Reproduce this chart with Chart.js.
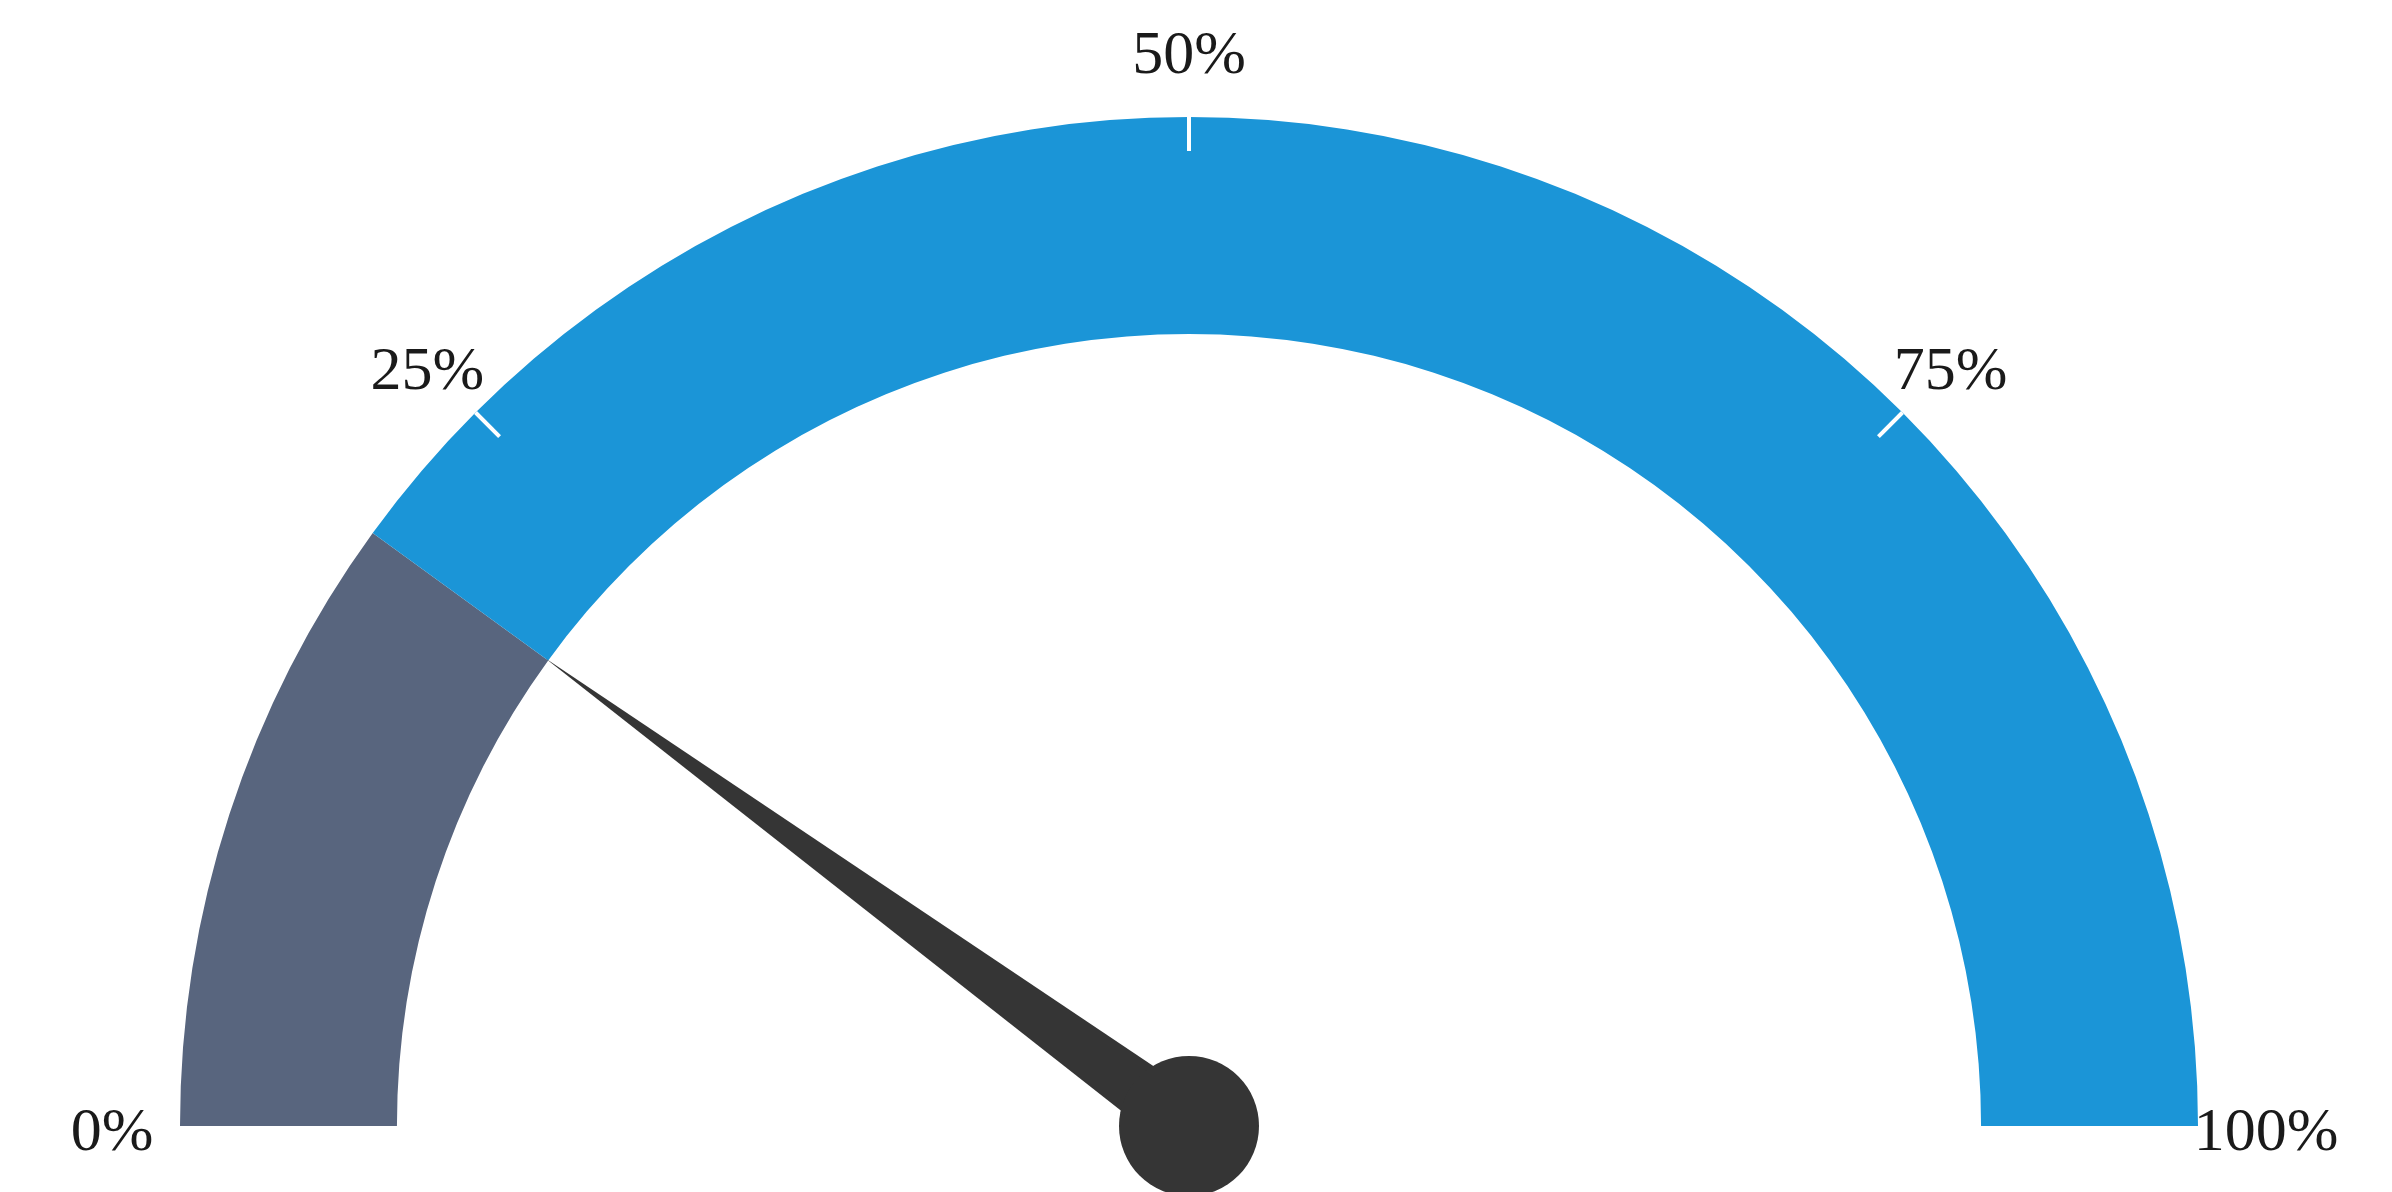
<!DOCTYPE html>
<html>
<head>
<meta charset="utf-8">
<script src="https://cdn.jsdelivr.net/npm/chart.js@4/dist/chart.umd.min.js"></script>
<style>
  html, body { margin: 0; padding: 0; background: #ffffff; }
  #wrap { width: 2392px; height: 1192px; }
</style>
</head>
<body>
<div id="wrap"><canvas id="gauge" width="2392" height="1192"></canvas></div>
<script>
// gauge data
const gaugeValue = 20;
const segments = [20, 80];
const segmentColors = ['#58657e', '#1b95d7'];
const tickValues = [0, 25, 50, 75, 100];
const tickLabels = ['0%', '25%', '50%', '75%', '100%'];
const gaugeMax = 100;

// draws tick labels, small white ticks and the needle from the arc geometry
const gaugeExtras = {
  id: 'gaugeExtras',
  afterDatasetsDraw(chart) {
    const arc = chart.getDatasetMeta(0).data[0];
    if (!arc) return;
    const { x, y, outerRadius, innerRadius } = arc.getProps(['x', 'y', 'outerRadius', 'innerRadius'], true);
    const ctx = chart.ctx;
    const angleOf = v => Math.PI + (v / gaugeMax) * Math.PI;

    ctx.save();

    // white tick marks on the outer edge
    ctx.strokeStyle = '#ffffff';
    ctx.lineWidth = 4;
    tickValues.forEach(v => {
      if (v === 0 || v === gaugeMax) return;
      const a = angleOf(v);
      ctx.beginPath();
      ctx.moveTo(x + Math.cos(a) * outerRadius, y + Math.sin(a) * outerRadius);
      ctx.lineTo(x + Math.cos(a) * (outerRadius - 34), y + Math.sin(a) * (outerRadius - 34));
      ctx.stroke();
    });

    // tick labels
    ctx.fillStyle = '#1a1a1a';
    ctx.font = '62px "Liberation Serif", "DejaVu Serif", serif';
    ctx.textAlign = 'center';
    ctx.textBaseline = 'middle';
    const labelR = outerRadius + 68;
    tickValues.forEach((v, i) => {
      const a = angleOf(v);
      ctx.fillText(tickLabels[i], x + Math.cos(a) * labelR, y + Math.sin(a) * labelR + 8);
    });

    // needle
    const a = angleOf(gaugeValue);
    const len = innerRadius + 4;
    const half = 30;
    ctx.fillStyle = '#353535';
    ctx.beginPath();
    ctx.moveTo(x + Math.cos(a) * len, y + Math.sin(a) * len);
    ctx.lineTo(x + Math.cos(a + Math.PI / 2) * half, y + Math.sin(a + Math.PI / 2) * half);
    ctx.lineTo(x + Math.cos(a - Math.PI / 2) * half, y + Math.sin(a - Math.PI / 2) * half);
    ctx.closePath();
    ctx.fill();
    ctx.beginPath();
    ctx.arc(x, y, 70, 0, Math.PI * 2);
    ctx.fill();

    ctx.restore();
  }
};

new Chart(document.getElementById('gauge'), {
  type: 'doughnut',
  data: {
    labels: ['Value', 'Rest'],
    datasets: [{
      data: segments,
      backgroundColor: segmentColors,
      borderWidth: 0,
      hoverOffset: 0
    }]
  },
  options: {
    responsive: false,
    animation: false,
    rotation: -90,
    circumference: 180,
    cutout: '78.5%',
    layout: { padding: { left: 180, right: 194, top: 117, bottom: 66 } },
    plugins: {
      legend: { display: false },
      tooltip: { enabled: false }
    }
  },
  plugins: [gaugeExtras]
});
</script>
</body>
</html>
